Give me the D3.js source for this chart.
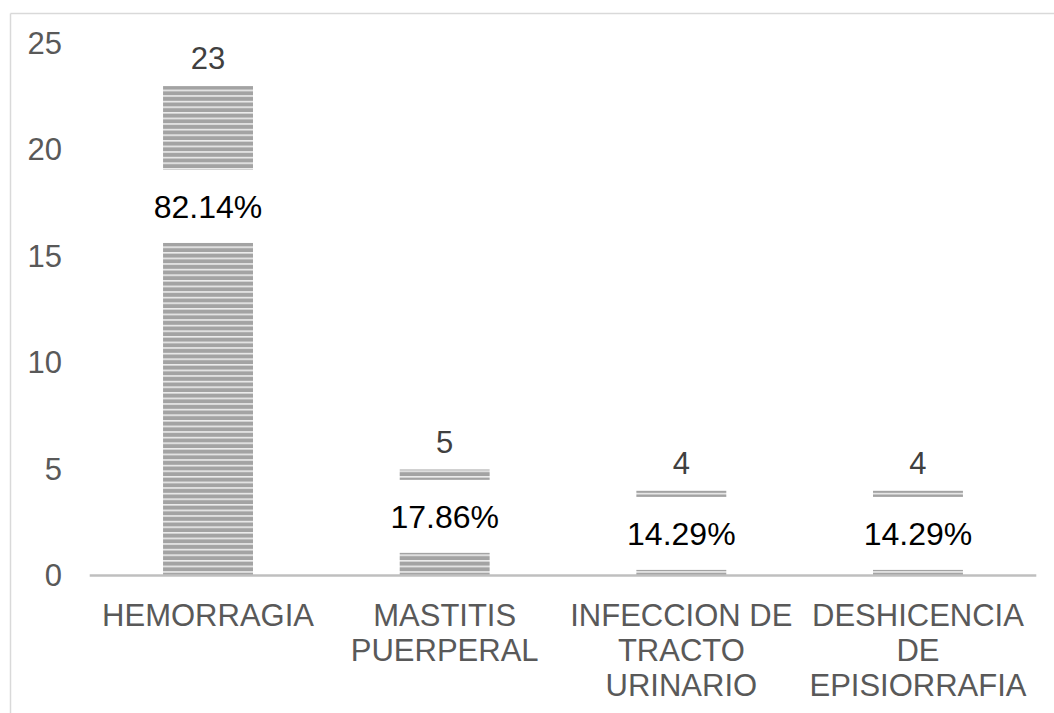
<!DOCTYPE html>
<html>
<head>
<meta charset="utf-8">
<script src="https://cdn.jsdelivr.net/npm/d3@7"></script>
<style>
  html, body { margin: 0; padding: 0; background: #fff; }
  svg { display: block; font-family: "Liberation Sans", Arial, sans-serif; }
</style>
</head>
<body>
<svg id="chart" width="1054" height="713"></svg>
<script>
// ---- data ----
const categories = ["HEMORRAGIA", "MASTITIS PUERPERAL", "INFECCION DE TRACTO URINARIO", "DESHICENCIA DE EPISIORRAFIA"];
const categoryLines = [["HEMORRAGIA"], ["MASTITIS", "PUERPERAL"], ["INFECCION DE", "TRACTO", "URINARIO"], ["DESHICENCIA", "DE", "EPISIORRAFIA"]];
const counts = [23, 5, 4, 4];
const percentLabels = ["82.14%", "17.86%", "14.29%", "14.29%"];
const percentLabelAnchor = [17.35, 2.8, 2.0, 2.0]; // label centre, in axis units
const yTicks = [0, 5, 10, 15, 20, 25];

// ---- layout ----
const svg = d3.select("#chart");
const W = 1054, H = 713;

// chart area border (left + top visible)
svg.append("line").attr("x1", 10.5).attr("x2", W).attr("y1", 13.5).attr("y2", 13.5)
  .attr("stroke", "#d9d9d9").attr("stroke-width", 1.5);
svg.append("line").attr("x1", 10.5).attr("x2", 10.5).attr("y1", 13.5).attr("y2", H)
  .attr("stroke", "#d9d9d9").attr("stroke-width", 1.5);

const x = d3.scaleBand().domain(categories).range([89.7, 1036.3]).paddingInner(0.62).paddingOuter(0.31);
const y = d3.scaleLinear().domain([0, 25]).range([576, 43.5]);

// stripe pattern
const defs = svg.append("defs");
const pat = defs.append("pattern").attr("id", "stripes")
  .attr("patternUnits", "userSpaceOnUse").attr("width", 10).attr("height", 5.6);
pat.append("rect").attr("width", 10).attr("height", 5.6).attr("fill", "#a3a3a3");
pat.append("rect").attr("y", 0).attr("width", 10).attr("height", 1.6).attr("fill", "#ececec");

// bars
svg.append("g").selectAll("rect").data(categories).join("rect")
  .attr("x", d => x(d))
  .attr("width", x.bandwidth())
  .attr("y", (d, i) => y(counts[i]))
  .attr("height", (d, i) => y(0) - y(counts[i]))
  .attr("fill", "url(#stripes)");

// y axis
const yAxis = d3.axisLeft(y).tickValues(yTicks).tickSize(0).tickPadding(29);
const gy = svg.append("g").attr("transform", "translate(91,0)").call(yAxis);
gy.select(".domain").remove();
gy.selectAll("text").attr("fill", "#595959").style("font-size", "31px")
  .style("font-family", "'Liberation Sans', Arial, sans-serif");

// percentage labels with white boxes
const pctG = svg.append("g");
const boxW = 164, boxH = 73;
categories.forEach((c, i) => {
  const cx = x(c) + x.bandwidth() / 2;
  const cy = y(percentLabelAnchor[i]);
  pctG.append("rect").attr("x", cx - boxW / 2).attr("y", cy - boxH / 2)
    .attr("width", boxW).attr("height", boxH).attr("fill", "#fff");
  pctG.append("text").attr("x", cx).attr("y", cy).attr("dy", "0.36em")
    .attr("text-anchor", "middle").attr("fill", "#000")
    .style("font-size", "32px").text(percentLabels[i]);
});

// x axis
const xAxis = d3.axisBottom(x).tickSize(0).tickFormat("");
const gx = svg.append("g").attr("transform", "translate(0,575.5)").call(xAxis);
gx.select(".domain").attr("stroke", "#bfbfbf").attr("stroke-width", 2.5)
  .attr("d", `M${x.range()[0]},0H${x.range()[1]}`);
gx.selectAll(".tick").each(function(d, i) {
  const t = d3.select(this).append("text")
    .attr("text-anchor", "middle").attr("fill", "#595959")
    .style("font-size", "31px");
  categoryLines[i].forEach((ln, k) => {
    t.append("tspan").attr("x", 0).attr("y", 50 + k * 35).text(ln);
  });
});

// count labels
svg.append("g").selectAll("text").data(categories).join("text")
  .attr("x", d => x(d) + x.bandwidth() / 2)
  .attr("y", (d, i) => y(counts[i]) - 17)
  .attr("text-anchor", "middle").attr("fill", "#404040")
  .style("font-size", "31px")
  .text((d, i) => counts[i]);
</script>
</body>
</html>
